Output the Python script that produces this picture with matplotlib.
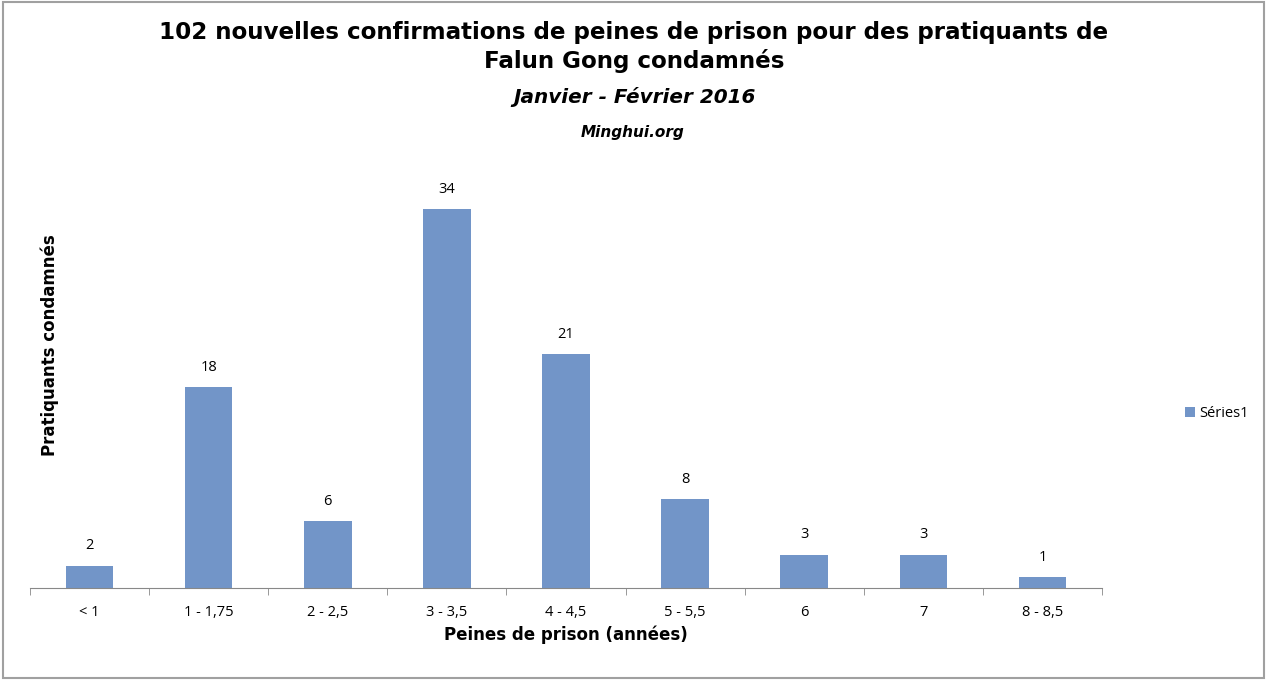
import numpy as np
import matplotlib.pyplot as plt
from matplotlib.patches import Rectangle

categories = ["< 1", "1 - 1,75", "2 - 2,5", "3 - 3,5", "4 - 4,5", "5 - 5,5", "6", "7", "8 - 8,5"]
values = [2, 18, 6, 34, 21, 8, 3, 3, 1]
series_name = "Séries1"

bar_color = "#7295c8"

fig = plt.figure(figsize=(12.67, 6.8), dpi=100)
fig.patches.append(Rectangle((0.002, 0.003), 0.996, 0.994, transform=fig.transFigure,
                             fill=False, edgecolor="#a0a0a0", lw=1.5))

# axes: x 30..1102 px, baseline y 588
ax_h_px = 588 - 170
ax = fig.add_axes([30 / 1267, (680 - 588) / 680, (1102 - 30) / 1267, ax_h_px / 680])
x = np.arange(len(categories))
bars = ax.bar(x, values, width=0.4, color=bar_color, label=series_name)
ax.set_xlim(-0.5, len(categories) - 0.5)
px_per_unit = (588 - 209) / 34.0
ax.set_ylim(0, ax_h_px / px_per_unit)

for xi, v in zip(x, values):
    ax.text(xi, v + 1.1, str(v), ha="center", va="bottom", fontsize=10.5,
            family="Open Sans")

for s in ["top", "right", "left"]:
    ax.spines[s].set_visible(False)
ax.spines["bottom"].set_color("#888888")
ax.set_yticks([])
ax.set_xticks(x)
ax.set_xticklabels(categories, family="Open Sans", fontsize=10.5)
ax.set_xticks(np.arange(len(categories) + 1) - 0.5, minor=True)
ax.tick_params(axis="x", which="major", length=0, pad=12)
ax.tick_params(axis="x", which="minor", length=5, color="#888888")

ax.set_xlabel("Peines de prison (années)", fontsize=12, fontweight="bold", labelpad=4)

fig.text(50 / 1267, 1 - 345 / 680, "Pratiquants condamnés", rotation=90, ha="center",
         va="center", fontsize=12, fontweight="bold")

fig.text(634 / 1267, 1 - 47 / 680,
         "102 nouvelles confirmations de peines de prison pour des pratiquants de\nFalun Gong condamnés",
         ha="center", va="center", fontsize=16.6, fontweight="bold", linespacing=1.25)
fig.text(635 / 1267, 1 - 97 / 680, "Janvier - Février 2016", ha="center", va="center",
         fontsize=14.4, fontweight="bold", style="italic")
fig.text(633 / 1267, 1 - 133 / 680, "Minghui.org", ha="center", va="center",
         fontsize=11, fontweight="bold", style="italic")

fig.legend(handles=[bars], labels=[series_name], loc="center left",
           bbox_to_anchor=(1172 / 1267, 1 - 414 / 680), frameon=False,
           prop={"family": "Open Sans", "size": 10.5}, handlelength=0.7,
           handleheight=0.7, handletextpad=0.3)

fig.savefig("out.png", dpi=100)
